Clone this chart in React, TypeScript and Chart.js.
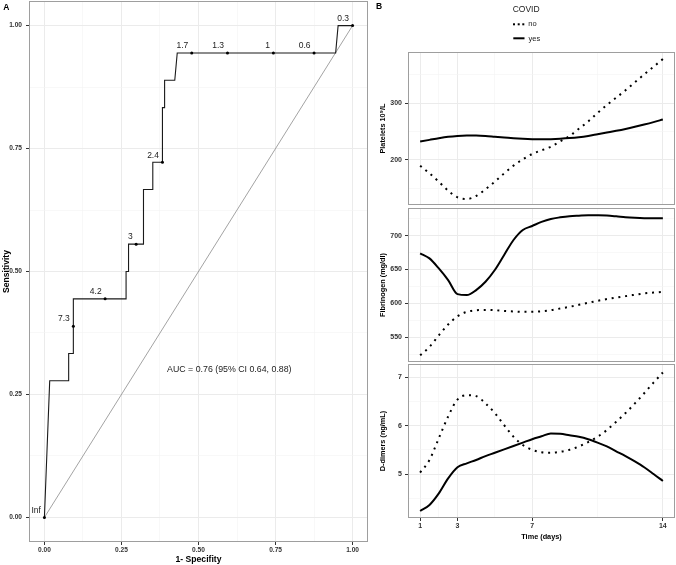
import React, { useEffect, useRef } from 'react';
import { Chart, registerables } from 'chart.js';
Chart.register(...registerables);

const FONT = "'Liberation Sans', Arial, Helvetica, sans-serif";

// ---------- Panel A: ROC ----------
const rocFpr = [0, 0.0172, 0.0787, 0.0787, 0.0939, 0.0939, 0.265, 0.265, 0.273, 0.273, 0.3215, 0.3215, 0.3517, 0.3517, 0.383, 0.383, 0.39, 0.39, 0.423, 0.431, 0.945, 0.953, 1];
const rocTpr = [0, 0.2778, 0.2778, 0.3333, 0.3333, 0.4444, 0.4444, 0.5, 0.5, 0.5556, 0.5556, 0.6667, 0.6667, 0.7222, 0.7222, 0.8333, 0.8333, 0.8889, 0.8889, 0.9444, 0.9444, 1, 1];
const cutLabels = ['Inf', '7.3', '4.2', '3', '2.4', '1.7', '1.3', '1', '0.6', '0.3'];
const cutFpr = [0, 0.0939, 0.197, 0.2977, 0.383, 0.478, 0.594, 0.743, 0.875, 1];
const cutTpr = [0, 0.3889, 0.4444, 0.5556, 0.7222, 0.9444, 0.9444, 0.9444, 0.9444, 1];
const refFpr = [0, 1];
const refTpr = [0, 1];
const aucText = 'AUC = 0.76 (95% CI 0.64, 0.88)';
const aucPos = [0.6, 0.3];
const rocMajor = [0, 0.25, 0.5, 0.75, 1];
const rocMinor = [0.125, 0.375, 0.625, 0.875];

// ---------- Panel B: time courses ----------
const days = [1, 1.5, 2, 2.5, 3, 3.5, 4, 4.5, 5, 5.5, 6, 6.5, 7, 7.5, 8, 8.5, 9, 9.5, 10, 10.5, 11, 11.5, 12, 12.5, 13, 13.5, 14];
const dayMajor = [1, 3, 7, 14];
const dayMinor = [2, 5, 10.5];

const plateletsYes = [232.5, 235.5, 238.5, 241, 242.5, 243.2, 243, 242.2, 241, 239.8, 238.5, 237.5, 236.8, 236.5, 236.8, 237.5, 238.6, 240.2, 242.5, 245.5, 248.5, 251.5, 254.8, 258.5, 262.5, 266.8, 271.5];
const plateletsNo = [190, 176.5, 161.7, 145.9, 134.2, 131.2, 136.5, 148.3, 161.7, 176.5, 190, 201.2, 210.6, 217, 223.5, 232.9, 242.3, 255, 268, 283, 297, 310, 323, 337, 351, 364.5, 378];
const plateletMajor = [200, 300];
const plateletMinor = [150, 250, 350];

const fibYes = [674, 666.5, 651.7, 634.5, 613.8, 612.3, 619.7, 632, 649.3, 671.5, 693.6, 708.4, 714.3, 720.3, 724.7, 727, 728.7, 729.5, 730.1, 730, 729.6, 728.5, 727.2, 726.3, 725.7, 725.5, 725.5];
const fibNo = [523.5, 535.8, 553, 568.9, 581, 587.6, 590, 590.5, 590, 589, 588.2, 587.6, 587.6, 588.5, 590, 592.5, 595, 598, 601, 603.8, 606.4, 608.7, 610.8, 612.8, 614.8, 616, 617.2];
const fibMajor = [550, 600, 650, 700];
const fibMinor = [525, 575, 625, 675, 725];

const ddYes = [4.235, 4.36, 4.6, 4.91, 5.14, 5.22, 5.29, 5.37, 5.44, 5.51, 5.58, 5.65, 5.72, 5.78, 5.84, 5.83, 5.8, 5.77, 5.72, 5.65, 5.57, 5.47, 5.37, 5.26, 5.14, 5.0, 4.855];
const ddNo = [5.03, 5.29, 5.74, 6.19, 6.54, 6.63, 6.61, 6.46, 6.26, 6.01, 5.77, 5.6, 5.5, 5.45, 5.44, 5.46, 5.5, 5.57, 5.66, 5.77, 5.91, 6.08, 6.26, 6.46, 6.67, 6.89, 7.1];
const ddMajor = [5, 6, 7];
const ddMinor = [4.5, 5.5, 6.5];

const legendTitle = 'COVID';
const legendLabels = ['no', 'yes'];

const near = (arr: number[], v: number) => arr.some((m) => Math.abs(m - v) < 1e-9);

function gridOpts(majors: number[], drawTicks = true) {
  return {
    color: (c: any) => (near(majors, c.tick?.value) ? '#EBEBEB' : '#F4F4F4'),
    lineWidth: (c: any) => (near(majors, c.tick?.value) ? 1 : 0.6),
    tickColor: (c: any) => (near(majors, c.tick?.value) ? '#333333' : 'rgba(0,0,0,0)'),
    tickWidth: 1,
    tickLength: 3,
    drawTicks,
  };
}

const noPad = (s: any) => {
  s.paddingTop = 0;
  s.paddingBottom = 0;
  s.paddingLeft = 0;
  s.paddingRight = 0;
};

const framePlugin = {
  id: 'frame',
  afterDatasetsDraw(chart: any) {
    const { ctx, chartArea } = chart;
    const l = Math.round(chartArea.left), t = Math.round(chartArea.top);
    const r = Math.round(chartArea.right), b = Math.round(chartArea.bottom);
    ctx.save();
    ctx.strokeStyle = '#9E9E9E';
    ctx.lineWidth = 1;
    ctx.strokeRect(l + 0.5, t + 0.5, r - l - 1, b - t - 1);
    ctx.restore();
  },
};

const rocLabelPlugin = {
  id: 'rocLabels',
  afterDatasetsDraw(chart: any) {
    const { ctx, scales } = chart;
    const x = scales.x, y = scales.y;
    ctx.save();
    ctx.fillStyle = '#222';
    ctx.font = `8.5px ${FONT}`;
    ctx.textAlign = 'right';
    ctx.textBaseline = 'middle';
    cutLabels.forEach((l, i) => {
      ctx.fillText(l, x.getPixelForValue(cutFpr[i]) - 3.5, y.getPixelForValue(cutTpr[i]) - 7);
    });
    ctx.textAlign = 'center';
    ctx.font = `8.8px ${FONT}`;
    ctx.fillText(aucText, x.getPixelForValue(aucPos[0]), y.getPixelForValue(aucPos[1]));
    ctx.fillStyle = '#000';
    ctx.font = `bold 8.5px ${FONT}`;
    ctx.fillText('A', 6.3, 7.5);
    ctx.restore();
  },
};

const legendPlugin = {
  id: 'covidLegend',
  afterDraw(chart: any) {
    const { ctx } = chart;
    ctx.save();
    ctx.fillStyle = '#000';
    ctx.textBaseline = 'middle';
    ctx.textAlign = 'center';
    ctx.font = `bold 8.5px ${FONT}`;
    ctx.fillText('B', 9, 7);
    ctx.textAlign = 'left';
    ctx.fillStyle = '#222';
    ctx.font = `8.5px ${FONT}`;
    ctx.fillText(legendTitle, 142.7, 9.5);
    ctx.fillStyle = '#000';
    [144, 148.7, 153.3].forEach((px) => ctx.fillRect(px - 1, 23.3, 2, 2));
    ctx.strokeStyle = '#000';
    ctx.lineWidth = 2;
    ctx.beginPath();
    ctx.moveTo(143.3, 38.3);
    ctx.lineTo(154.5, 38.3);
    ctx.stroke();
    ctx.fillStyle = '#222';
    ctx.font = `7.5px ${FONT}`;
    ctx.fillText(legendLabels[0], 158.3, 24.3);
    ctx.fillText(legendLabels[1], 158.5, 38.5);
    ctx.restore();
  },
};

function configA(): any {
  const pts = (xs: number[], ys: number[]) => xs.map((v, i) => ({ x: v, y: ys[i] }));
  const tickFont = { family: FONT, size: 6.6, weight: 'bold' as const };
  const titleFont = { family: FONT, size: 8.6, weight: 'bold' as const };
  return {
    type: 'scatter',
    data: {
      datasets: [
        { data: pts(cutFpr, cutTpr), showLine: false, pointRadius: 1.5, pointHoverRadius: 1.5, pointBackgroundColor: '#000', pointBorderWidth: 0, clip: false },
        { data: pts(rocFpr, rocTpr), showLine: true, tension: 0, borderColor: '#1a1a1a', borderWidth: 1.1, pointRadius: 0, pointHoverRadius: 0 },
        { data: pts(refFpr, refTpr), showLine: true, tension: 0, borderColor: '#8c8c8c', borderWidth: 0.8, pointRadius: 0, pointHoverRadius: 0 },
      ],
    },
    options: {
      responsive: false,
      animation: false,
      events: [],
      layout: { autoPadding: false, padding: { left: 0, right: 8, top: 1, bottom: 0 } },
      plugins: { legend: { display: false }, tooltip: { enabled: false } },
      scales: {
        x: {
          type: 'linear', min: -0.05, max: 1.05,
          afterBuildTicks: (s: any) => { s.ticks = [...rocMajor, ...rocMinor].sort((a, b) => a - b).map((v) => ({ value: v })); },
          afterFit: (s: any) => { s.height = 23; noPad(s); },
          grid: gridOpts(rocMajor),
          border: { display: false },
          ticks: { autoSkip: false, maxRotation: 0, padding: 1, color: '#333', font: tickFont, callback: (v: number) => (near(rocMajor, v) ? v.toFixed(2) : '') },
          title: { display: true, text: '1- Specifity', color: '#000', font: titleFont, padding: { top: 0, bottom: 0 } },
        },
        y: {
          type: 'linear', min: -0.05, max: 1.05,
          afterBuildTicks: (s: any) => { s.ticks = [...rocMajor, ...rocMinor].sort((a, b) => a - b).map((v) => ({ value: v })); },
          afterFit: (s: any) => { s.width = 29; noPad(s); },
          grid: gridOpts(rocMajor),
          border: { display: false },
          ticks: { autoSkip: false, padding: 4, color: '#333', font: tickFont, callback: (v: number) => (near(rocMajor, v) ? v.toFixed(2) : '') },
          title: { display: true, text: 'Sensitivity', color: '#000', font: titleFont, padding: { top: 1.2, bottom: 0 } },
        },
      },
    },
    plugins: [framePlugin, rocLabelPlugin],
  };
}

interface BOpts {
  yes: number[];
  no: number[];
  yMin: number;
  yMax: number;
  majors: number[];
  minors: number[];
  title: string;
  showX: boolean;
  padTop: number;
  padBottom: number;
  xHeight: number;
  extra?: any[];
}

function configB(o: BOpts): any {
  const pts = (ys: number[]) => days.map((d, i) => ({ x: d, y: ys[i] }));
  const tickFont = { family: FONT, size: 7, weight: 'bold' as const };
  const titleFont = { family: FONT, size: 7.3, weight: 'bold' as const };
  return {
    type: 'scatter',
    data: {
      datasets: [
        { data: pts(o.yes), showLine: true, cubicInterpolationMode: 'monotone', borderColor: '#000', borderWidth: 2, pointRadius: 0, pointHoverRadius: 0 },
        { data: pts(o.no), showLine: true, cubicInterpolationMode: 'monotone', borderColor: '#000', borderWidth: 2, borderDash: [2, 4.8], borderCapStyle: 'butt', pointRadius: 0, pointHoverRadius: 0 },
      ],
    },
    options: {
      responsive: false,
      animation: false,
      events: [],
      layout: { autoPadding: false, padding: { left: 0, right: 1, top: o.padTop, bottom: o.padBottom } },
      plugins: { legend: { display: false }, tooltip: { enabled: false } },
      scales: {
        x: {
          type: 'linear', min: 0.35, max: 14.65,
          afterBuildTicks: (s: any) => { s.ticks = [...dayMajor, ...dayMinor].sort((a, b) => a - b).map((v) => ({ value: v })); },
          afterFit: (s: any) => { s.height = o.xHeight; noPad(s); },
          grid: gridOpts(dayMajor, o.showX),
          border: { display: false },
          ticks: { display: o.showX, autoSkip: false, maxRotation: 0, padding: 1, color: '#333', font: tickFont, callback: (v: number) => (near(dayMajor, v) ? String(v) : '') },
          title: { display: o.showX, text: 'Time (days)', color: '#000', font: titleFont, padding: { top: 0, bottom: 3.6 } },
        },
        y: {
          type: 'linear', min: o.yMin, max: o.yMax,
          afterBuildTicks: (s: any) => { s.ticks = [...o.majors, ...o.minors].sort((a, b) => a - b).map((v) => ({ value: v })); },
          afterFit: (s: any) => { s.width = 38; noPad(s); },
          grid: gridOpts(o.majors),
          border: { display: false },
          ticks: { autoSkip: false, padding: 3, color: '#333', font: tickFont, callback: (v: number) => (near(o.majors, v) ? String(v) : '') },
          title: { display: true, text: o.title, color: '#000', font: titleFont, padding: { top: 8.6, bottom: 0 } },
        },
      },
    },
    plugins: [framePlugin, ...(o.extra || [])],
  };
}

export default function App() {
  const aRef = useRef<HTMLCanvasElement>(null);
  const b1Ref = useRef<HTMLCanvasElement>(null);
  const b2Ref = useRef<HTMLCanvasElement>(null);
  const b3Ref = useRef<HTMLCanvasElement>(null);

  useEffect(() => {
    const charts = [
      new Chart(aRef.current!, configA()),
      new Chart(b1Ref.current!, configB({ yes: plateletsYes, no: plateletsNo, yMin: 120.6, yMax: 390.5, majors: plateletMajor, minors: plateletMinor, title: 'Platelets 10⁹/L', showX: false, padTop: 52, padBottom: 2, xHeight: 0, extra: [legendPlugin] })),
      new Chart(b2Ref.current!, configB({ yes: fibYes, no: fibNo, yMin: 513.6, yMax: 740.8, majors: fibMajor, minors: fibMinor, title: 'Fibrinogen (mg/dl)', showX: false, padTop: 2, padBottom: 2, xHeight: 0 })),
      new Chart(b3Ref.current!, configB({ yes: ddYes, no: ddNo, yMin: 4.09, yMax: 7.275, majors: ddMajor, minors: ddMinor, title: 'D-dimers (ng/mL)', showX: true, padTop: 2, padBottom: 0, xHeight: 27 })),
    ];
    return () => charts.forEach((c) => c.destroy());
  }, []);

  const abs = (left: number, top: number, w: number, h: number): React.CSSProperties => ({ position: 'absolute', left, top, width: w, height: h });

  return (
    <div style={{ position: 'absolute', left: 0, top: 0, width: 676, height: 565, background: '#fff', overflow: 'hidden' }}>
      <canvas ref={aRef} width={376} height={565} style={abs(0, 0, 376, 565)} />
      <canvas ref={b1Ref} width={306} height={207} style={abs(370, 0, 306, 207)} />
      <canvas ref={b2Ref} width={306} height={158} style={abs(370, 206, 306, 158)} />
      <canvas ref={b3Ref} width={306} height={183} style={abs(370, 362, 306, 183)} />
    </div>
  );
}
